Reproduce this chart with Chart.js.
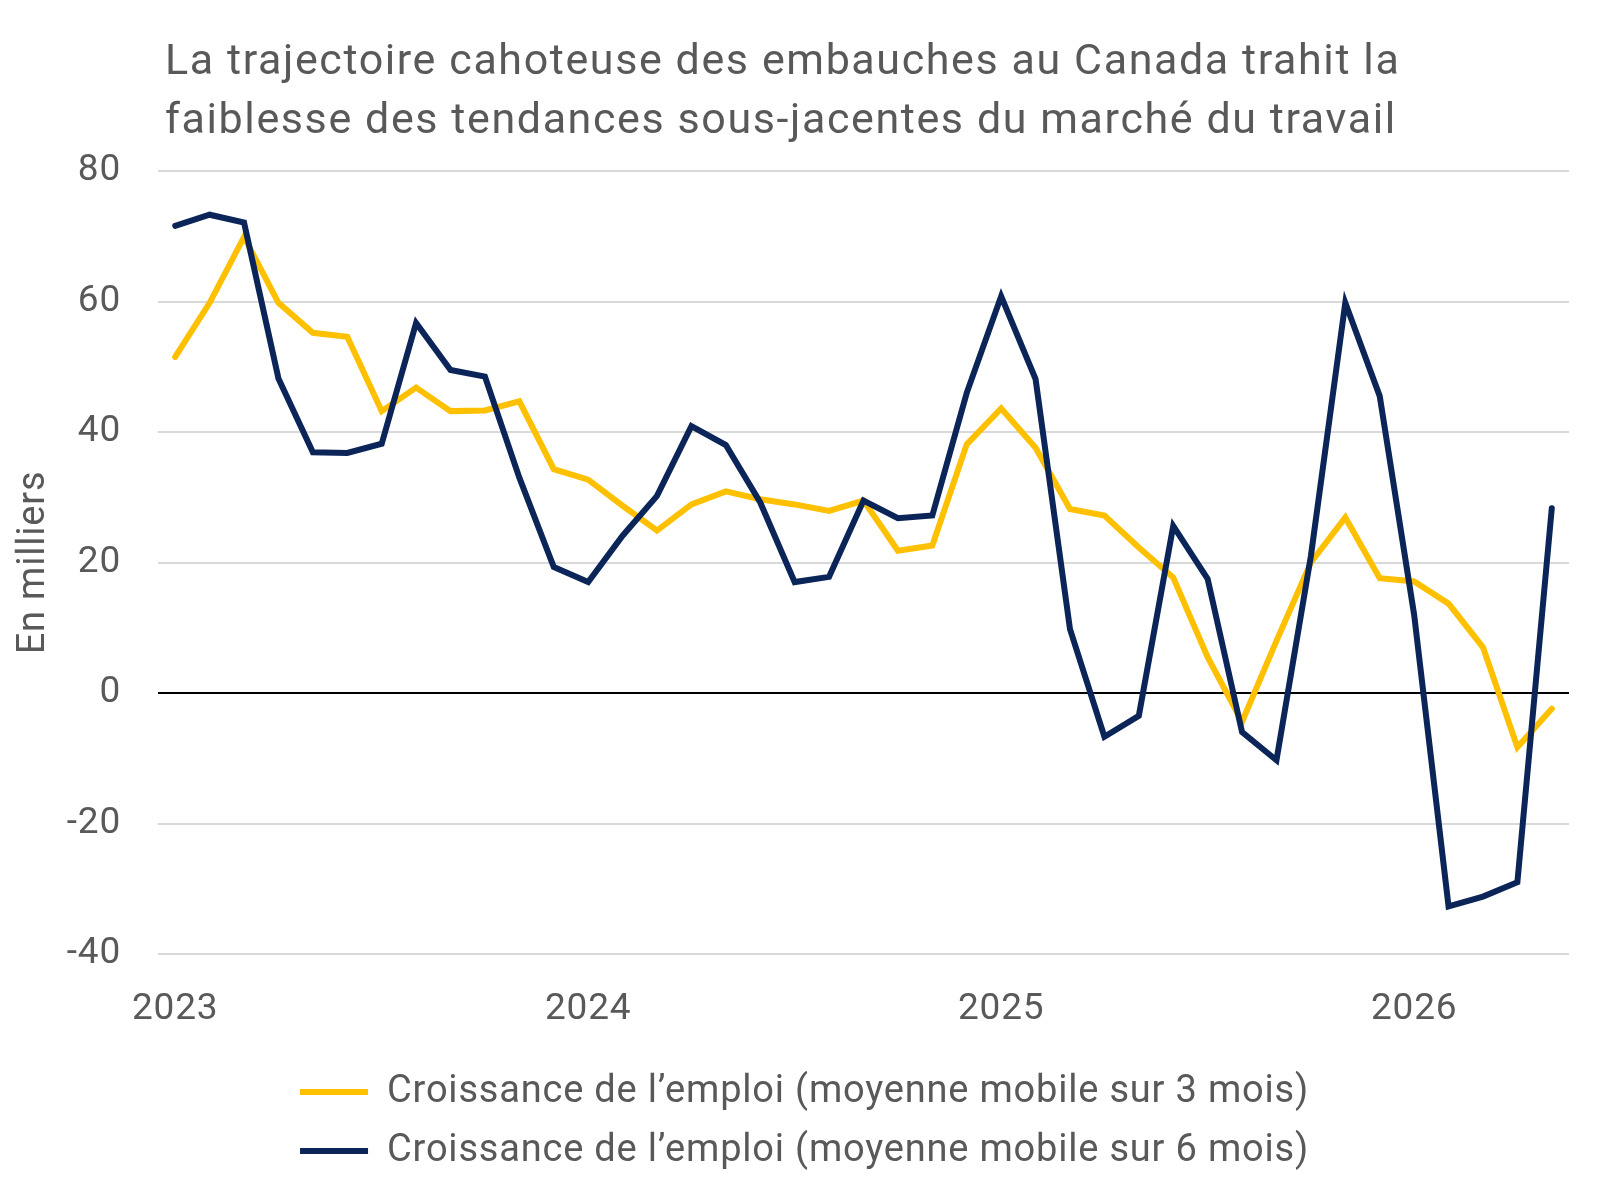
<!DOCTYPE html>
<html>
<head>
<meta charset="utf-8">
<script src="https://cdn.jsdelivr.net/npm/chart.js@4.4.1/dist/chart.umd.min.js"></script>
<style>
  body { margin: 0; background: #fff; }
  #wrap { position: relative; width: 1600px; height: 1180px; }
  #titre {
    position: absolute; left: 165px; top: 30px;
    font-family: Roboto, sans-serif; font-size: 43px; line-height: 59px;
    letter-spacing: 1.6px;
    color: #595959;
  }
  canvas { position: absolute; left: 0; top: 0; }
</style>
</head>
<body>
<div id="wrap">
  <canvas id="grafico" width="1600" height="1180"></canvas>
  <div id="titre">La trajectoire cahoteuse des embauches au Canada trahit la<br>faiblesse des tendances sous-jacentes du marché du travail</div>
</div>
<script>
// mois, de janvier 2023 à mai 2026
const mois = [
    '2023-01', '2023-02', '2023-03', '2023-04', '2023-05', '2023-06', '2023-07', '2023-08', '2023-09', '2023-10', '2023-11', '2023-12',
    '2024-01', '2024-02', '2024-03', '2024-04', '2024-05', '2024-06', '2024-07', '2024-08', '2024-09', '2024-10', '2024-11', '2024-12',
    '2025-01', '2025-02', '2025-03', '2025-04', '2025-05', '2025-06', '2025-07', '2025-08', '2025-09', '2025-10', '2025-11', '2025-12',
    '2026-01', '2026-02', '2026-03', '2026-04', '2026-05'
];

// croissance de l'emploi, en milliers
const moyenne3Mois = [
    51.5, 59.8, 69.9, 59.8, 55.2, 54.6, 43.2, 46.8, 43.2, 43.3, 44.7, 34.3,
    32.7, 28.7, 24.9, 28.9, 30.9, 29.7, 28.9, 27.9, 29.5, 21.8, 22.6, 38.1,
    43.6, 37.6, 28.2, 27.2, 22.3, 17.7, 5.5, -4.4, 8.0, 20.0, 26.9, 17.6,
    17.1, 13.7, 7.0, -8.3, -2.4
];

const moyenne6Mois = [
    71.6, 73.3, 72.1, 48.2, 36.9, 36.8, 38.2, 56.7, 49.5, 48.5, 33.0, 19.3,
    17.0, 24.1, 30.2, 40.9, 38.0, 29.2, 17.0, 17.8, 29.5, 26.8, 27.2, 46.0,
    60.8, 48.1, 9.8, -6.7, -3.5, 25.6, 17.5, -6.0, -10.3, 21.0, 59.8, 45.5,
    12.0, -32.7, -31.2, -29.0, 28.3
];

const ticksY = [-40, -20, 0, 20, 40, 60, 80];

const cinza = '#595959';
const fonte = 'Roboto, sans-serif';

// espacement des lettres + légende un peu décalée vers la droite
const ajustes = {
    id: 'ajustes',
    beforeUpdate(chart) { chart.ctx.letterSpacing = '0.8px'; },
    beforeDraw(chart) { chart.ctx.letterSpacing = '0.8px'; },
    afterLayout(chart) {
        chart.legend.left += 20;
        chart.legend.right += 20;
    }
};

const ctx = document.getElementById('grafico');

new Chart(ctx, {
    type: 'line',
    data: {
        labels: mois,
        datasets: [{
            label: 'Croissance de l\u2019emploi (moyenne mobile sur 3 mois)',
            data: moyenne3Mois,
            borderColor: '#FFC000',
            backgroundColor: '#FFC000',
            borderWidth: 6,
            borderCapStyle: 'round',
            pointRadius: 0,
            tension: 0,
            order: 1
        }, {
            label: 'Croissance de l\u2019emploi (moyenne mobile sur 6 mois)',
            data: moyenne6Mois,
            borderColor: '#0B2559',
            backgroundColor: '#0B2559',
            borderWidth: 6,
            borderCapStyle: 'round',
            pointRadius: 0,
            tension: 0,
            order: 0
        }]
    },
    options: {
        responsive: false,
        animation: false,
        layout: {
            padding: { top: 171, right: 31, left: 0, bottom: 0 }
        },
        plugins: {
            tooltip: { enabled: false },
            legend: {
                position: 'bottom',
                labels: {
                    usePointStyle: true,
                    pointStyle: 'line',
                    pointStyleWidth: 68,
                    padding: 21,
                    color: cinza,
                    font: { family: fonte, size: 38 },
                    sort: (a, b) => a.datasetIndex - b.datasetIndex
                }
            }
        },
        scales: {
            x: {
                offset: true,
                grid: { display: false, drawTicks: false },
                border: { display: false },
                ticks: {
                    autoSkip: false,
                    maxRotation: 0,
                    padding: 34,
                    color: cinza,
                    font: { family: fonte, size: 37 },
                    callback: function (valor, i) {
                        const m = mois[i];
                        return m.endsWith('-01') ? m.slice(0, 4) : '';
                    }
                },
                afterFit: function (scale) { scale.height = 98; }
            },
            y: {
                min: ticksY[0],
                max: ticksY[ticksY.length - 1],
                afterBuildTicks: function (scale) {
                    scale.ticks = ticksY.map(v => ({ value: v }));
                },
                grid: {
                    drawTicks: false,
                    lineWidth: 2,
                    color: c => c.tick && c.tick.value === 0 ? '#000000' : '#D9D9D9'
                },
                border: { display: false },
                ticks: {
                    padding: 37,
                    color: cinza,
                    font: { family: fonte, size: 37 }
                },
                title: {
                    display: true,
                    text: 'En milliers',
                    color: cinza,
                    font: { family: fonte, size: 38 },
                    padding: { top: 12, bottom: 0 }
                },
                afterFit: function (scale) { scale.width = 158; }
            }
        }
    },
    plugins: [ajustes]
});
</script>
</body>
</html>
